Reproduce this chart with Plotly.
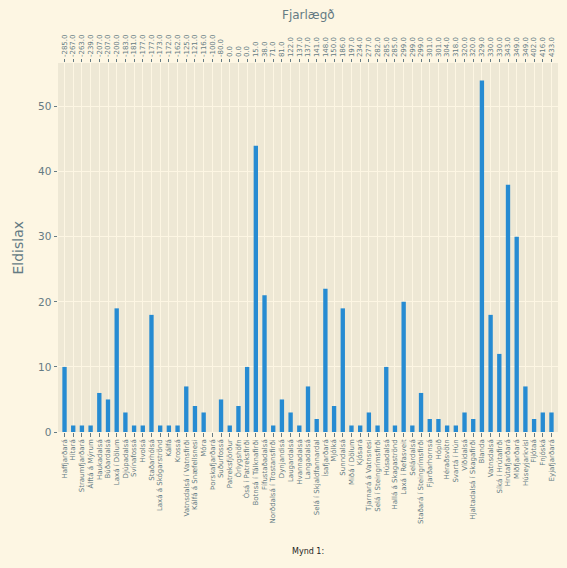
import plotly.graph_objects as go

rivers = ["Haffjarðará", "Hítará", "Straumfjarðará", "Álftá á Mýrum", "Haukadalsá", "Búðardalsá",
          "Laxá í Dölum", "Djúpadalsá", "Svínafossá", "Hvolsá", "Staðarhólsá", "Laxá á Skógarströnd",
          "Kálfá", "Krossá", "Vatnsdalsá í Vatnsfirði", "Kálfá á Snæfellsnesi", "Móra", "Þorskafjarðará",
          "Suðurfossá", "Patreksfjörður", "Örlygshöfn", "Ósá í Patreksfirði", "Botnsá í Tálknafirði",
          "Fífustaðadalsá", "Norðdalsá í Trostansfirði", "Dynjandisá", "Laugardalsá", "Hvannadalsá",
          "Langadalsá", "Selá í Skjaldfannardal", "Ísafjarðará", "Mjólká", "Sunndalsá", "Miðá í Dölum",
          "Kjósará", "Tjarnará á Vatnsnesi", "Selá í Steingrímsfirði", "Húsadalsá", "Hallá á Skagaströnd",
          "Laxá í Refasveit", "Selárdalsá", "Staðará í Steingrímsfirði", "Fjarðarhornsá", "Hópið",
          "Héraðsvötn", "Svartá í Hún", "Víðidalsá", "Hjaltadalsá í Skagafirði", "Blanda", "Vatnsdalsá",
          "Síká í Hrútafirði", "Hrútafjarðará", "Miðfjarðará", "Húseyjarkvísl", "Fljótaá", "Fnjóská",
          "Eyjafjarðará"]

eldislax = [10, 1, 1, 1, 6, 5, 19, 3, 1, 1, 18, 1, 1, 1, 7, 4, 3, 0, 5, 1, 4, 10, 44, 21, 1, 5, 3, 1,
            7, 2, 22, 4, 19, 1, 1, 3, 1, 10, 1, 20, 1, 6, 2, 2, 1, 1, 3, 2, 54, 18, 12, 38, 30, 7, 2, 3, 3]

fjarlaegd = [-285, -267, -263, -239, -207, -207, -200, -183, -181, -177, -177, -173, -172, -162,
             -125, -121, -116, -100, -80, 0, 0, 0, 15, 38, 71, 81, 122, 137, 137, 141, 148, 150, 186,
             197, 234, 277, 282, 285, 285, 299, 299, 299, 301, 301, 304, 318, 320, 320, 329, 330, 330,
             343, 349, 349, 402, 416, 433]

y_ticks = [0, 10, 20, 30, 40, 50]

idx = list(range(len(rivers)))
FG = "#657b83"
FONT = "DejaVu Sans"

fig = go.Figure()
fig.add_trace(go.Bar(x=idx, y=eldislax, marker=dict(color="#268BD2", line=dict(width=0)),
                     width=0.5, xaxis="x", yaxis="y", showlegend=False))
fig.add_trace(go.Scatter(x=idx, y=eldislax, mode="markers", marker=dict(opacity=0),
                         xaxis="x2", yaxis="y", showlegend=False, hoverinfo="skip"))

xr = [-0.75, len(rivers) - 0.25]
fig.update_layout(
    width=567, height=568,
    margin=dict(l=58, r=9, t=63, b=136),
    paper_bgcolor="#FDF6E3", plot_bgcolor="#EEE8D5",
    font=dict(family=FONT, color=FG),
    xaxis=dict(range=xr, tickmode="array", tickvals=idx, ticktext=rivers, tickangle=-90,
               tickfont=dict(size=7, color=FG, family=FONT), ticks="outside", ticklen=3.5,
               tickcolor=FG, tickwidth=0.8, showgrid=True, gridcolor="#FDF6E3", gridwidth=1,
               zeroline=False, showline=False),
    xaxis2=dict(range=xr, overlaying="x", side="top", tickmode="array", tickvals=idx,
                ticktext=[f"{v:.1f}" for v in fjarlaegd], tickangle=-90,
                tickfont=dict(size=7, color=FG, family=FONT), ticks="outside", ticklen=3.5,
                tickcolor=FG, tickwidth=0.8, showgrid=False, zeroline=False, showline=False),
    yaxis=dict(range=[0, 56.7], tickmode="array", tickvals=y_ticks,
               tickfont=dict(size=10.5, color=FG, family=FONT), ticks="outside", ticklen=3.5,
               tickcolor=FG, tickwidth=0.8, showgrid=True, gridcolor="#FDF6E3", gridwidth=1,
               zeroline=False, showline=False),
    annotations=[
        dict(text="Fjarlægð", xref="paper", yref="paper", x=0.5, y=1.13, showarrow=False,
             font=dict(size=12, color=FG, family=FONT), xanchor="center", yanchor="middle"),
        dict(text="Eldislax", xref="paper", yref="paper", x=-0.082, y=0.5, showarrow=False,
             textangle=-90, font=dict(size=14, color=FG, family=FONT), xanchor="center",
             yanchor="middle"),
        dict(text="Mynd 1:", xref="paper", yref="paper", x=0.5, y=-0.3225, showarrow=False,
             font=dict(size=8, color="#222222", family=FONT), xanchor="center", yanchor="middle"),
    ],
)

fig.write_html("out.html", config={"displayModeBar": False},
               post_script="document.body.style.margin='0';document.body.style.overflow='hidden';")
